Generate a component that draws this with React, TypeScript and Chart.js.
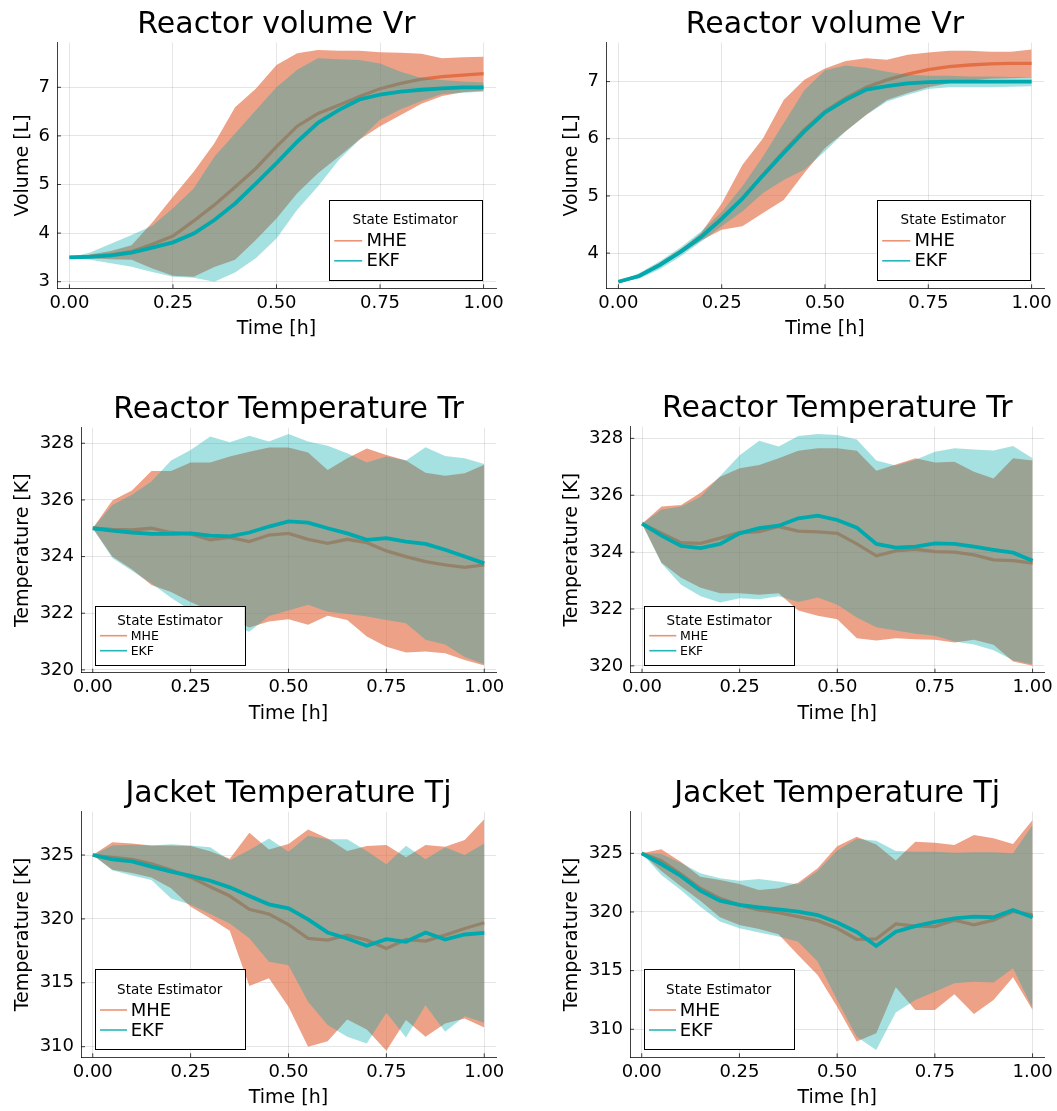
import React, { useEffect, useRef } from "react";
import { Chart, registerables } from "chart.js";

Chart.register(...registerables);

// ---------- data ----------
const TIME_H = [0, 0.05, 0.1, 0.15, 0.2, 0.25, 0.3, 0.35, 0.4, 0.45, 0.5, 0.55, 0.6, 0.65, 0.7, 0.75, 0.8, 0.85, 0.9, 0.95, 1.0];
const X_TICKS = [0, 0.25, 0.5, 0.75, 1.0];

// Reactor volume Vr, left run
const vrL_mhe = [3.5, 3.52, 3.55, 3.62, 3.77, 3.94, 4.25, 4.58, 4.95, 5.33, 5.78, 6.2, 6.46, 6.63, 6.81, 6.97, 7.08, 7.17, 7.22, 7.25, 7.28];
const vrL_mheLo = [3.5, 3.48, 3.46, 3.45, 3.27, 3.12, 3.1, 3.3, 3.45, 3.86, 4.3, 4.82, 5.23, 5.57, 5.92, 6.2, 6.43, 6.66, 6.82, 6.9, 6.93];
const vrL_mheHi = [3.5, 3.56, 3.63, 3.75, 4.22, 4.75, 5.26, 5.85, 6.59, 6.97, 7.46, 7.7, 7.77, 7.75, 7.75, 7.72, 7.71, 7.69, 7.6, 7.62, 7.63];
const vrL_ekf = [3.5, 3.51, 3.54, 3.6, 3.7, 3.81, 3.99, 4.27, 4.61, 5.02, 5.44, 5.88, 6.27, 6.53, 6.75, 6.85, 6.91, 6.95, 6.98, 7.0, 7.0];
const vrL_ekfLo = [3.5, 3.45, 3.38, 3.31, 3.2, 3.1, 3.08, 3.0, 3.19, 3.48, 3.89, 4.48, 4.96, 5.5, 5.92, 6.33, 6.55, 6.72, 6.86, 6.89, 6.91];
const vrL_ekfHi = [3.5, 3.6, 3.78, 3.96, 4.15, 4.51, 4.92, 5.57, 6.05, 6.53, 7.0, 7.36, 7.6, 7.58, 7.56, 7.49, 7.32, 7.19, 7.15, 7.12, 7.1];

// Reactor volume Vr, right run
const vrR_mhe = [3.5, 3.6, 3.8, 4.03, 4.29, 4.61, 4.96, 5.37, 5.78, 6.16, 6.48, 6.71, 6.9, 7.03, 7.13, 7.21, 7.26, 7.29, 7.31, 7.32, 7.32];
const vrR_mheLo = [3.5, 3.58, 3.76, 3.98, 4.22, 4.41, 4.47, 4.7, 4.93, 5.4, 5.84, 6.13, 6.42, 6.68, 6.8, 6.9, 6.97, 7.02, 7.05, 7.06, 7.07];
const vrR_mheHi = [3.5, 3.62, 3.82, 4.05, 4.35, 4.87, 5.54, 6.01, 6.68, 7.03, 7.23, 7.36, 7.41, 7.38, 7.47, 7.51, 7.54, 7.54, 7.52, 7.52, 7.56];
const vrR_ekf = [3.5, 3.6, 3.79, 4.02, 4.28, 4.6, 4.95, 5.36, 5.75, 6.13, 6.46, 6.68, 6.86, 6.92, 6.97, 6.99, 7.0, 7.0, 7.0, 7.0, 7.0];
const vrR_ekfLo = [3.5, 3.55, 3.72, 3.94, 4.2, 4.47, 4.73, 5.05, 5.28, 5.46, 5.78, 6.13, 6.42, 6.65, 6.77, 6.87, 6.9, 6.9, 6.9, 6.91, 6.92];
const vrR_ekfHi = [3.5, 3.65, 3.86, 4.1, 4.38, 4.72, 5.17, 5.69, 6.27, 6.85, 7.2, 7.28, 7.24, 7.17, 7.12, 7.1, 7.1, 7.09, 7.09, 7.08, 7.08];

// Reactor temperature Tr, left run
const trL_mhe = [325, 324.96, 324.94, 325.0, 324.85, 324.8, 324.59, 324.68, 324.53, 324.76, 324.82, 324.61, 324.47, 324.61, 324.49, 324.2, 324.0, 323.82, 323.71, 323.62, 323.71];
const trL_mheLo = [325, 324.0, 323.55, 323.0, 322.75, 322.4, 322.1, 321.8, 321.5, 321.71, 321.79, 321.59, 321.91, 321.76, 321.18, 320.82, 320.61, 320.65, 320.59, 320.35, 320.15];
const trL_mheHi = [325, 325.98, 326.33, 327.02, 327.02, 327.32, 327.32, 327.53, 327.7, 327.85, 327.85, 327.67, 327.06, 327.47, 327.82, 327.59, 327.39, 326.96, 326.85, 326.94, 327.24];
const trL_ekf = [325, 324.92, 324.85, 324.8, 324.8, 324.82, 324.74, 324.71, 324.85, 325.06, 325.24, 325.2, 325.0, 324.82, 324.59, 324.65, 324.53, 324.45, 324.24, 324.0, 323.76];
const trL_ekfLo = [325, 323.95, 323.5, 323.05, 322.55, 322.1, 321.8, 321.55, 321.35, 321.9, 322.1, 322.3, 322.05, 321.98, 321.88, 321.76, 321.65, 321.06, 320.9, 320.45, 320.2];
const trL_ekfHi = [325, 325.82, 326.18, 326.65, 327.39, 327.76, 328.24, 328.04, 328.27, 328.06, 328.33, 328.06, 327.91, 327.65, 327.32, 327.53, 327.39, 327.86, 327.55, 327.47, 327.27];

// Reactor temperature Tr, right run
const trR_mhe = [325, 324.66, 324.33, 324.31, 324.49, 324.69, 324.72, 324.9, 324.74, 324.71, 324.66, 324.29, 323.87, 324.04, 324.1, 324.02, 324.0, 323.9, 323.73, 323.7, 323.61];
const trR_mheLo = [325, 323.63, 323.1, 322.75, 322.55, 322.55, 322.5, 322.55, 321.95, 321.76, 321.64, 320.97, 320.89, 320.97, 320.94, 320.92, 320.82, 320.92, 320.74, 320.15, 320.0];
const trR_mheHi = [325, 325.6, 325.66, 326.09, 326.65, 326.95, 327.06, 327.3, 327.56, 327.65, 327.65, 327.56, 326.86, 327.08, 327.3, 327.15, 327.18, 326.83, 326.59, 327.3, 327.22];
const trR_ekf = [325, 324.58, 324.22, 324.14, 324.29, 324.66, 324.84, 324.93, 325.19, 325.28, 325.13, 324.86, 324.29, 324.16, 324.19, 324.31, 324.29, 324.19, 324.08, 323.98, 323.7];
const trR_ekfLo = [325, 323.6, 322.85, 322.45, 322.23, 322.38, 322.34, 322.45, 322.25, 322.4, 322.15, 321.7, 321.36, 321.24, 321.13, 321.06, 320.86, 320.75, 320.55, 320.2, 320.05];
const trR_ekfHi = [325, 325.5, 325.6, 325.95, 326.68, 327.41, 327.92, 327.71, 328.08, 328.15, 328.12, 327.96, 327.22, 327.05, 327.25, 327.53, 327.65, 327.61, 327.57, 327.73, 327.3];

// Jacket temperature Tj, left run
const tjL_mhe = [325, 324.82, 324.66, 324.3, 323.83, 323.25, 322.52, 321.79, 320.75, 320.38, 319.55, 318.47, 318.34, 318.73, 318.34, 317.69, 318.39, 318.26, 318.73, 319.25, 319.7];
const tjL_mheLo = [325, 323.85, 323.6, 323.25, 322.4, 320.95, 320.05, 319.08, 314.75, 315.35, 313.12, 309.99, 310.43, 312.13, 311.35, 309.68, 312.08, 310.77, 311.82, 312.21, 311.5];
const tjL_mheHi = [325, 325.99, 325.91, 325.75, 325.75, 325.7, 325.3, 324.7, 326.75, 325.44, 325.86, 327.0, 326.3, 325.31, 325.7, 325.78, 324.82, 325.78, 325.65, 326.17, 327.79];
const tjL_ekf = [325, 324.66, 324.5, 324.09, 323.7, 323.36, 322.99, 322.47, 321.79, 321.14, 320.83, 319.96, 318.94, 318.47, 317.9, 318.42, 318.21, 318.94, 318.39, 318.78, 318.91];
const tjL_ekfLo = [325, 323.8, 323.4, 323.04, 321.6, 321.1, 320.38, 319.65, 318.48, 316.65, 316.38, 313.51, 311.69, 310.77, 310.25, 312.65, 310.72, 313.25, 311.16, 312.39, 311.87];
const tjL_ekfHi = [325, 325.75, 325.8, 325.75, 325.85, 325.75, 325.6, 324.6, 325.4, 326.3, 325.26, 326.51, 326.23, 326.23, 325.31, 324.27, 325.73, 324.66, 325.6, 325.0, 325.91];

// Jacket temperature Tj, right run
const tjR_mhe = [325, 324.38, 323.24, 322.02, 321.16, 320.6, 320.17, 319.94, 319.6, 319.26, 318.61, 317.67, 317.7, 318.98, 318.8, 318.75, 319.3, 318.9, 319.3, 320.05, 319.75];
const tjR_mheLo = [325, 323.5, 322.2, 320.95, 319.55, 318.9, 318.55, 318.1, 316.33, 314.63, 311.93, 308.95, 309.66, 313.58, 311.65, 311.65, 312.98, 311.3, 312.5, 314.43, 311.65];
const tjR_mheHi = [325, 325.34, 324.29, 323.01, 322.73, 322.39, 321.88, 322.02, 322.5, 323.72, 325.6, 326.42, 325.75, 324.38, 325.99, 325.91, 325.71, 326.56, 326.28, 325.8, 327.84];
const tjR_ekf = [325, 324.09, 323.07, 321.82, 320.97, 320.6, 320.4, 320.23, 320.03, 319.74, 319.1, 318.3, 317.1, 318.32, 318.8, 319.15, 319.46, 319.6, 319.55, 320.17, 319.55];
const tjR_ekfLo = [325, 323.15, 321.88, 320.45, 319.18, 318.61, 318.24, 317.9, 317.47, 315.77, 312.5, 309.37, 308.24, 311.42, 312.5, 313.2, 313.92, 314.06, 313.98, 315.2, 311.8];
const tjR_ekfHi = [325, 324.95, 324.2, 323.3, 322.87, 322.67, 322.81, 322.59, 322.35, 323.5, 325.25, 326.25, 326.08, 325.2, 325.14, 325.14, 325.06, 325.1, 325.1, 325.0, 327.41];

const VR_L_TICKS = [3, 4, 5, 6, 7];
const VR_R_TICKS = [4, 5, 6, 7];
const TR_TICKS = [320, 322, 324, 326, 328];
const TJ_TICKS = [310, 315, 320, 325];

const ESTIMATORS = ["MHE", "EKF"];
const LEGEND_TITLE = "State Estimator";
const X_TITLE = "Time [h]";

// ---------- styling ----------
const FONT = "'DejaVu Sans', 'Liberation Sans', sans-serif";
const MHE_LINE = "rgb(227,111,71)";
const EKF_LINE = "rgb(0,169,173)";
const MHE_FILL = "rgba(227,111,71,0.65)";
const EKF_FILL = "rgba(0,169,173,0.35)";
const MHE_KEY = "rgba(227,111,71,0.75)";
const EKF_KEY = "rgba(0,169,173,0.85)";
const AXIS_COLOR = "rgba(0,0,0,0.75)";
const GRID_COLOR = "rgba(0,0,0,0.1)";
const X_AXIS_BAND = 40; // height reserved below the plot for x tick labels
const Y_TITLE_X = 27.5; // baseline of the rotated y-axis title, from the panel's left edge

type LegendStyle = {
  side: "left" | "right";
  dx: number;
  dy: number;
  w: number;
  h: number;
  titleY: number;
  rows: number[];
  entrySize: number;
  lineX: [number, number];
  textX: number;
};

const LEGEND_BIG_RIGHT: LegendStyle = {
  side: "right", dx: 14.5, dy: 8.3, w: 152.6, h: 79.7,
  titleY: 20.5, rows: [40.5, 60.5], entrySize: 18, lineX: [5.3, 33.3], textX: 37.5,
};
const LEGEND_SMALL_LEFT: LegendStyle = {
  side: "left", dx: 14, dy: 7.7, w: 149.7, h: 59,
  titleY: 15.3, rows: [29.7, 44.7], entrySize: 12.5, lineX: [5, 32], textX: 35.7,
};
const LEGEND_BIG_LEFT: LegendStyle = {
  side: "left", dx: 13.7, dy: 8, w: 150, h: 80,
  titleY: 20.7, rows: [40.7, 60.7], entrySize: 18, lineX: [5.3, 32.3], textX: 36,
};

type PanelSpec = {
  title: string;
  yTitle: string;
  series: number[][]; // mheHi, mheLo, mhe, ekfHi, ekfLo, ekf
  yTicks: number[];
  yMin: number;
  yMax: number;
  cell: { x: number; y: number; w: number; h: number };
  pad: { left: number; top: number; right: number; bottom: number };
  legend: LegendStyle;
};

const PANELS: PanelSpec[] = [
  {
    title: "Reactor volume Vr", yTitle: "Volume [L]",
    series: [vrL_mheHi, vrL_mheLo, vrL_mhe, vrL_ekfHi, vrL_ekfLo, vrL_ekf],
    yTicks: VR_L_TICKS, yMin: 2.864, yMax: 7.918,
    cell: { x: 0, y: 0, w: 549, h: 380 },
    pad: { left: 57, top: 42.7, right: 53, bottom: 91.7 },
    legend: LEGEND_BIG_RIGHT,
  },
  {
    title: "Reactor volume Vr", yTitle: "Volume [L]",
    series: [vrR_mheHi, vrR_mheLo, vrR_mhe, vrR_ekfHi, vrR_ekfLo, vrR_ekf],
    yTicks: VR_R_TICKS, yMin: 3.385, yMax: 7.68,
    cell: { x: 549, y: 0, w: 508, h: 380 },
    pad: { left: 57, top: 42.7, right: 13, bottom: 91.7 },
    legend: LEGEND_BIG_RIGHT,
  },
  {
    title: "Reactor Temperature Tr", yTitle: "Temperature [K]",
    series: [trL_mheHi, trL_mheLo, trL_mhe, trL_ekfHi, trL_ekfLo, trL_ekf],
    yTicks: TR_TICKS, yMin: 319.9, yMax: 328.55,
    cell: { x: 0, y: 380, w: 549, h: 385 },
    pad: { left: 81, top: 47.7, right: 53, bottom: 92.3 },
    legend: LEGEND_SMALL_LEFT,
  },
  {
    title: "Reactor Temperature Tr", yTitle: "Temperature [K]",
    series: [trR_mheHi, trR_mheLo, trR_mhe, trR_ekfHi, trR_ekfLo, trR_ekf],
    yTicks: TR_TICKS, yMin: 319.76, yMax: 328.41,
    cell: { x: 549, y: 380, w: 508, h: 385 },
    pad: { left: 81.3, top: 46.7, right: 12.7, bottom: 92.3 },
    legend: LEGEND_SMALL_LEFT,
  },
  {
    title: "Jacket Temperature Tj", yTitle: "Temperature [K]",
    series: [tjL_mheHi, tjL_mheLo, tjL_mhe, tjL_ekfHi, tjL_ekfLo, tjL_ekf],
    yTicks: TJ_TICKS, yMin: 309.17, yMax: 328.39,
    cell: { x: 0, y: 765, w: 549, h: 346 },
    pad: { left: 81, top: 46.7, right: 53, bottom: 53.7 },
    legend: LEGEND_BIG_LEFT,
  },
  {
    title: "Jacket Temperature Tj", yTitle: "Temperature [K]",
    series: [tjR_mheHi, tjR_mheLo, tjR_mhe, tjR_ekfHi, tjR_ekfLo, tjR_ekf],
    yTicks: TJ_TICKS, yMin: 307.61, yMax: 328.55,
    cell: { x: 549, y: 765, w: 508, h: 346 },
    pad: { left: 81, top: 46.7, right: 12.7, bottom: 53.7 },
    legend: LEGEND_BIG_LEFT,
  },
];

// Titles, axis titles, inward tick marks and the legend box.
const panelDecor = {
  id: "panelDecor",
  afterDraw(chart: any, _args: any, opts: any) {
    const { ctx, chartArea: a, scales } = chart;
    ctx.save();

    ctx.strokeStyle = AXIS_COLOR;
    ctx.lineWidth = 1;
    ctx.beginPath();
    for (const t of scales.x.ticks) {
      const px = scales.x.getPixelForValue(t.value);
      ctx.moveTo(px, a.bottom);
      ctx.lineTo(px, a.bottom - 4);
    }
    for (const t of scales.y.ticks) {
      const py = scales.y.getPixelForValue(t.value);
      ctx.moveTo(a.left, py);
      ctx.lineTo(a.left + 4, py);
    }
    ctx.stroke();

    ctx.fillStyle = "#000";
    ctx.textAlign = "center";
    ctx.textBaseline = "alphabetic";
    ctx.font = `30px ${FONT}`;
    ctx.fillText(opts.title, (a.left + a.right) / 2, a.top - 10);

    ctx.font = `19px ${FONT}`;
    ctx.fillText(X_TITLE, (a.left + a.right) / 2, a.bottom + 46);

    ctx.save();
    ctx.translate(Y_TITLE_X, (a.top + a.bottom) / 2);
    ctx.rotate(-Math.PI / 2);
    ctx.fillText(opts.yTitle, 0, 0);
    ctx.restore();

    const L: LegendStyle = opts.legend;
    const bx = L.side === "right" ? a.right - L.dx - L.w : a.left + L.dx;
    const by = a.bottom - L.dy - L.h;
    ctx.fillStyle = "#fff";
    ctx.fillRect(bx, by, L.w, L.h);
    ctx.strokeStyle = "#000";
    ctx.lineWidth = 1;
    ctx.strokeRect(Math.round(bx) + 0.5, Math.round(by) + 0.5, Math.round(L.w), Math.round(L.h));

    ctx.fillStyle = "#000";
    ctx.textBaseline = "middle";
    ctx.textAlign = "center";
    ctx.font = `13.5px ${FONT}`;
    ctx.fillText(LEGEND_TITLE, bx + L.w / 2, by + L.titleY);

    const keys = [MHE_KEY, EKF_KEY];
    ctx.textAlign = "left";
    ctx.font = `${L.entrySize}px ${FONT}`;
    ESTIMATORS.forEach((name, i) => {
      const y = by + L.rows[i];
      ctx.strokeStyle = keys[i];
      ctx.lineWidth = 1.6;
      ctx.beginPath();
      ctx.moveTo(bx + L.lineX[0], y);
      ctx.lineTo(bx + L.lineX[1], y);
      ctx.stroke();
      ctx.fillStyle = "#000";
      ctx.fillText(name, bx + L.textX, y + 1);
    });

    ctx.restore();
  },
};

function zeroPadding(scale: any) {
  scale.paddingLeft = 0;
  scale.paddingRight = 0;
  scale.paddingTop = 0;
  scale.paddingBottom = 0;
}

function EstimatorPanel({ spec }: { spec: PanelSpec }) {
  const ref = useRef<HTMLCanvasElement | null>(null);

  useEffect(() => {
    if (!ref.current) return;
    const [mheHi, mheLo, mhe, ekfHi, ekfLo, ekf] = spec.series;
    const pts = (vals: number[]) => TIME_H.map((t, i) => ({ x: t, y: vals[i] }));
    const band = (vals: number[], fill: any, color: string, order: number) => ({
      data: pts(vals),
      fill,
      backgroundColor: color,
      borderColor: "rgba(0,0,0,0)",
      borderWidth: 0,
      pointRadius: 0,
      order,
    });
    const line = (vals: number[], color: string, width: number, order: number) => ({
      data: pts(vals),
      fill: false,
      borderColor: color,
      borderWidth: width,
      pointRadius: 0,
      tension: 0,
      order,
    });

    const chart = new Chart(ref.current, {
      type: "line",
      data: {
        datasets: [
          band(mheHi, "+1", MHE_FILL, 4),
          band(mheLo, false, "rgba(0,0,0,0)", 4),
          line(mhe, MHE_LINE, 3.3, 3),
          band(ekfHi, "+1", EKF_FILL, 2),
          band(ekfLo, false, "rgba(0,0,0,0)", 2),
          line(ekf, EKF_LINE, 3.8, 1),
        ] as any,
      },
      options: {
        animation: false,
        responsive: false,
        maintainAspectRatio: false,
        devicePixelRatio: 1,
        events: [],
        layout: {
          padding: {
            left: 0,
            top: spec.pad.top,
            right: spec.pad.right,
            bottom: spec.pad.bottom - X_AXIS_BAND,
          },
        },
        plugins: {
          legend: { display: false },
          tooltip: { enabled: false },
          title: { display: false },
          panelDecor: { title: spec.title, yTitle: spec.yTitle, legend: spec.legend },
        } as any,
        scales: {
          x: {
            type: "linear",
            min: -0.03,
            max: 1.03,
            afterBuildTicks: (s: any) => {
              s.ticks = X_TICKS.map((v) => ({ value: v }));
            },
            afterFit: (s: any) => {
              s.height = X_AXIS_BAND;
              zeroPadding(s);
            },
            ticks: {
              autoSkip: false,
              maxRotation: 0,
              padding: 4,
              color: "#000",
              font: { family: FONT, size: 18 },
              callback: (v: any) => Number(v).toFixed(2),
            },
            grid: { color: GRID_COLOR, lineWidth: 1, drawTicks: false },
            border: { display: true, color: AXIS_COLOR, width: 1 },
          },
          y: {
            type: "linear",
            min: spec.yMin,
            max: spec.yMax,
            afterBuildTicks: (s: any) => {
              s.ticks = spec.yTicks.map((v) => ({ value: v }));
            },
            afterFit: (s: any) => {
              s.width = spec.pad.left;
              zeroPadding(s);
            },
            ticks: {
              autoSkip: false,
              padding: 7,
              color: "#000",
              font: { family: FONT, size: 18 },
              callback: (v: any) => String(v),
            },
            grid: { color: GRID_COLOR, lineWidth: 1, drawTicks: false },
            border: { display: true, color: AXIS_COLOR, width: 1 },
          },
        },
      } as any,
      plugins: [panelDecor],
    });
    return () => chart.destroy();
  }, [spec]);

  return (
    <canvas
      ref={ref}
      width={spec.cell.w}
      height={spec.cell.h}
      style={{ position: "absolute", left: spec.cell.x, top: spec.cell.y, width: spec.cell.w, height: spec.cell.h }}
    />
  );
}

export default function App() {
  return (
    <div style={{ position: "absolute", left: 0, top: 0, width: 1057, height: 1111, background: "#fff", overflow: "hidden" }}>
      {PANELS.map((p, i) => (
        <EstimatorPanel key={i} spec={p} />
      ))}
    </div>
  );
}
